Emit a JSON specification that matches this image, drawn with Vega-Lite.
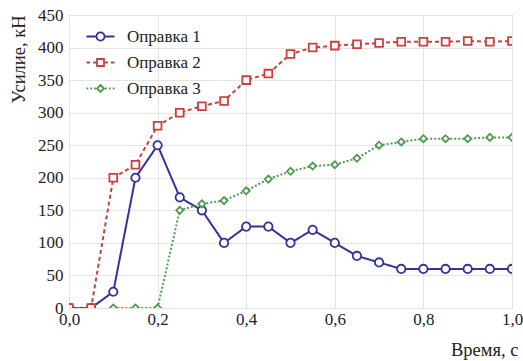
{
  "$schema": "https://vega.github.io/schema/vega-lite/v6.json",
  "width": 443,
  "height": 293,
  "autosize": {"type": "none"},
  "padding": {"left": 69, "top": 15, "right": 11, "bottom": 53},
  "background": "white",
  "config": {
    "font": "Liberation Serif",
    "view": {"stroke": "#8a8a8a", "strokeWidth": 1},
    "axis": {"labelFont": "Liberation Serif", "titleFont": "Liberation Serif", "labelFontSize": 17, "titleFontSize": 18.5, "titleFontWeight": "normal", "labelColor": "#222", "titleColor": "#222", "gridColor": "#e4e4e4", "domain": false, "tickColor": "#8a8a8a"},
    "legend": {"labelFont": "Liberation Serif"}
  },
  "data": {"values": [
    {"t": 0.0, "y": 0, "s": "Оправка 1"},
    {"t": 0.05, "y": 0, "s": "Оправка 1"},
    {"t": 0.1, "y": 25, "s": "Оправка 1"},
    {"t": 0.15, "y": 200, "s": "Оправка 1"},
    {"t": 0.2, "y": 250, "s": "Оправка 1"},
    {"t": 0.25, "y": 170, "s": "Оправка 1"},
    {"t": 0.3, "y": 150, "s": "Оправка 1"},
    {"t": 0.35, "y": 100, "s": "Оправка 1"},
    {"t": 0.4, "y": 125, "s": "Оправка 1"},
    {"t": 0.45, "y": 125, "s": "Оправка 1"},
    {"t": 0.5, "y": 100, "s": "Оправка 1"},
    {"t": 0.55, "y": 120, "s": "Оправка 1"},
    {"t": 0.6, "y": 100, "s": "Оправка 1"},
    {"t": 0.65, "y": 80, "s": "Оправка 1"},
    {"t": 0.7, "y": 70, "s": "Оправка 1"},
    {"t": 0.75, "y": 60, "s": "Оправка 1"},
    {"t": 0.8, "y": 60, "s": "Оправка 1"},
    {"t": 0.85, "y": 60, "s": "Оправка 1"},
    {"t": 0.9, "y": 60, "s": "Оправка 1"},
    {"t": 0.95, "y": 60, "s": "Оправка 1"},
    {"t": 1.0, "y": 60, "s": "Оправка 1"},
    {"t": 0.0, "y": 0, "s": "Оправка 2"},
    {"t": 0.05, "y": 0, "s": "Оправка 2"},
    {"t": 0.1, "y": 200, "s": "Оправка 2"},
    {"t": 0.15, "y": 220, "s": "Оправка 2"},
    {"t": 0.2, "y": 280, "s": "Оправка 2"},
    {"t": 0.25, "y": 300, "s": "Оправка 2"},
    {"t": 0.3, "y": 310, "s": "Оправка 2"},
    {"t": 0.35, "y": 318, "s": "Оправка 2"},
    {"t": 0.4, "y": 350, "s": "Оправка 2"},
    {"t": 0.45, "y": 360, "s": "Оправка 2"},
    {"t": 0.5, "y": 390, "s": "Оправка 2"},
    {"t": 0.55, "y": 400, "s": "Оправка 2"},
    {"t": 0.6, "y": 403, "s": "Оправка 2"},
    {"t": 0.65, "y": 405, "s": "Оправка 2"},
    {"t": 0.7, "y": 407, "s": "Оправка 2"},
    {"t": 0.75, "y": 409, "s": "Оправка 2"},
    {"t": 0.8, "y": 409, "s": "Оправка 2"},
    {"t": 0.85, "y": 409, "s": "Оправка 2"},
    {"t": 0.9, "y": 410, "s": "Оправка 2"},
    {"t": 0.95, "y": 409, "s": "Оправка 2"},
    {"t": 1.0, "y": 410, "s": "Оправка 2"},
    {"t": 0.1, "y": 0, "s": "Оправка 3"},
    {"t": 0.15, "y": 0, "s": "Оправка 3"},
    {"t": 0.2, "y": 0, "s": "Оправка 3"},
    {"t": 0.25, "y": 150, "s": "Оправка 3"},
    {"t": 0.3, "y": 160, "s": "Оправка 3"},
    {"t": 0.35, "y": 165, "s": "Оправка 3"},
    {"t": 0.4, "y": 180, "s": "Оправка 3"},
    {"t": 0.45, "y": 198, "s": "Оправка 3"},
    {"t": 0.5, "y": 210, "s": "Оправка 3"},
    {"t": 0.55, "y": 218, "s": "Оправка 3"},
    {"t": 0.6, "y": 220, "s": "Оправка 3"},
    {"t": 0.65, "y": 230, "s": "Оправка 3"},
    {"t": 0.7, "y": 250, "s": "Оправка 3"},
    {"t": 0.75, "y": 255, "s": "Оправка 3"},
    {"t": 0.8, "y": 260, "s": "Оправка 3"},
    {"t": 0.85, "y": 260, "s": "Оправка 3"},
    {"t": 0.9, "y": 260, "s": "Оправка 3"},
    {"t": 0.95, "y": 262, "s": "Оправка 3"},
    {"t": 1.0, "y": 262, "s": "Оправка 3"}
  ]},
  "encoding": {
    "x": {"field": "t", "type": "quantitative", "scale": {"domain": [0, 1], "nice": false},
      "axis": {"values": [0, 0.2, 0.4, 0.6, 0.8, 1.0], "labelExpr": "replace(format(datum.value, '.1f'), '.', ',')", "title": "Время, с", "titleAnchor": "end", "titleAlign": "right", "titleX": 449, "titleY": 32, "ticks": false, "labelPadding": 3, "labelFlush": false, "labelFont": "Liberation Serif", "titleFont": "Liberation Serif"}},
    "y": {"field": "y", "type": "quantitative", "scale": {"domain": [0, 450], "nice": false},
      "axis": {"values": [0, 50, 100, 150, 200, 250, 300, 350, 400, 450], "title": "Усилие, кН", "titleAnchor": "end", "titleAlign": "right", "titleX": -41, "titleY": 0, "ticks": false, "labelPadding": 6, "labelFont": "Liberation Serif", "titleFont": "Liberation Serif"}}
  },
  "resolve": {"scale": {"shape": "independent"}, "legend": {"color": "independent", "shape": "independent", "strokeDash": "independent", "size": "independent"}},
  "layer": [
    {
      "mark": {"type": "line", "strokeWidth": 2, "clip": true},
      "encoding": {
        "color": {"field": "s", "type": "nominal", "scale": {"domain": ["Оправка 1", "Оправка 2", "Оправка 3"], "range": ["#35339a", "#cc3f3f", "#4f9a4f"]}, "legend": null},
        "strokeDash": {"field": "s", "type": "nominal", "scale": {"domain": ["Оправка 1", "Оправка 2", "Оправка 3"], "range": [[1, 0], [4, 3], [2, 2]]}, "legend": null}
      }
    },
    {
      "mark": {"type": "point", "filled": false, "fill": "white", "strokeWidth": 1.8, "opacity": 1, "clip": true},
      "encoding": {
        "color": {"field": "s", "type": "nominal", "legend": null},
        "shape": {"field": "s", "type": "nominal", "scale": {"domain": ["Оправка 1", "Оправка 2", "Оправка 3"], "range": ["circle", "square", "diamond"]}, "legend": null},
        "size": {"field": "s", "type": "nominal", "scale": {"domain": ["Оправка 1", "Оправка 2", "Оправка 3"], "range": [70, 50, 40]}, "legend": null}
      }
    },
    {
      "mark": {"type": "point", "filled": false, "opacity": 0, "clip": true},
      "encoding": {
        "shape": {"field": "s", "type": "nominal", "scale": {"domain": ["Оправка 1", "Оправка 2", "Оправка 3"], "range": [
          "M-2,0H-0.58M0.58,0H2M-0.58,0A0.58,0.58 0 1,0 0.58,0A0.58,0.58 0 1,0 -0.58,0Z",
          "M-2,0H-1.5M-1.05,0H-0.55M0.55,0H1.05M1.5,0H2M-0.5,-0.5H0.5V0.5H-0.5Z",
          "M-2,0H-1.75M-1.45,0H-1.2M-0.9,0H-0.65M0.65,0H0.9M1.2,0H1.45M1.75,0H2M0,-0.5L0.5,0L0,0.5L-0.5,0Z"]}},
        "color": {"field": "s", "type": "nominal",
          "legend": {"title": null, "orient": "none", "legendX": 23, "legendY": 13, "padding": 0, "symbolSize": 196, "rowPadding": 8, "labelOffset": 18, "labelFontSize": 17, "labelFont": "Liberation Serif", "labelColor": "#222", "symbolStrokeWidth": 1.8, "symbolFillColor": "white", "symbolOpacity": 1,
            "encode": {"symbols": {"update": {
              "fill": {"value": "white"},
              "opacity": {"value": 1},
              "strokeWidth": {"value": 1.8}
            }}}}}
      }
    }
  ]
}
